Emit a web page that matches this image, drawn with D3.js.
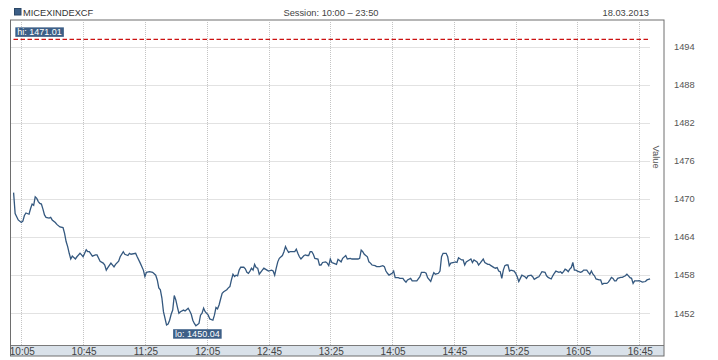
<!DOCTYPE html>
<html>
<head>
<meta charset="utf-8">
<script src="https://d3js.org/d3.v7.min.js"></script>
<style>
body { margin: 0; background: #fff; }
svg text { font-family: "Liberation Sans", Arial, sans-serif; }
</style>
</head>
<body>
<script>
"use strict";
var svg_width = 718;
var svg_height = 360;

//---header texts
var ticker = "MICEXINDEXCF";
var session_text = "Session: 10:00 \u2013 23:50";
var date_text = "18.03.2013";

//---minutes after 10:00 and index value at that minute
var minutes = [
    0,1,2,3,5,6,7,8,10,11,
    12,13,14,15,16,17,18,19,20,21,
    23,24,25,27,28,30,32,33,34,35,
    36,37,38,40,41,43,44,45,47,48,
    49,51,53,54,56,58,59,60,61,63,
    65,66,68,69,71,72,74,75,76,79,
    80,82,84,85,86,88,90,92,93,94,
    95,96,97,99,100,101,102,103,104,105,
    106,107,108,110,111,113,114,115,116,117,
    118,120,121,122,123,124,126,127,129,130,
    131,132,133,134,135,136,138,139,140,141,
    142,143,144,145,146,147,149,150,151,152,
    153,154,155,156,157,158,159,161,162,164,
    165,167,168,169,170,171,172,174,175,176,
    177,178,179,181,182,183,184,185,186,188,
    189,190,191,192,193,194,195,197,198,199,
    200,202,203,204,205,206,207,209,210,212,
    213,215,216,218,219,221,223,224,225,226,
    227,229,230,231,232,234,235,237,239,240,
    241,242,243,245,246,247,249,250,252,253,
    254,255,257,258,260,261,263,264,266,267,
    268,270,271,272,273,275,276,277,278,279,
    280,281,282,283,285,286,287,288,290,291,
    292,293,295,296,297,298,300,301,302,304,
    305,307,308,309,311,312,313,314,315,316,
    317,318,319,320,321,322,324,325,326,327,
    328,329,331,332,333,335,336,337,339,340,
    341,342,344,345,346,348,349,350,351,353,
    354,355,356,357,358,359,360,361,362,363,
    364,365,367,368,369,371,372,373,374,375,
    376,377,379,380,381,382,384,385,386,387,
    388,389,390,391,393,394,396,397,398,399,
    400,401,402,404,405,407,409,410,412
];
var values = [
    1471.01,1467.7,1467.2,1466.7,1466.3,1466.5,1467.4,1467.8,1467.6,1468.5,
    1469.2,1469.0,1470.35,1470.1,1469.6,1469.3,1469.2,1468.4,1467.5,1467.1,
    1467.0,1467.1,1466.7,1466.3,1466.0,1465.6,1465.5,1464.6,1463.3,1462.5,
    1461.45,1460.55,1461.0,1460.55,1460.9,1461.45,1461.2,1460.9,1462.0,1461.7,
    1461.7,1461.0,1461.2,1461.2,1460.2,1459.9,1459.6,1458.8,1459.2,1459.9,
    1459.3,1459.7,1460.2,1460.9,1461.7,1461.3,1461.1,1461.45,1461.3,1461.45,
    1460.9,1459.9,1458.8,1457.8,1458.45,1458.55,1458.45,1458.0,1457.25,1456.0,
    1455.7,1454.4,1452.25,1450.15,1450.3,1450.9,1451.85,1452.5,1454.8,1454.1,
    1453.0,1452.0,1452.25,1452.5,1452.35,1452.8,1452.35,1451.85,1450.9,1450.4,
    1450.04,1450.4,1451.7,1452.0,1452.8,1452.25,1451.7,1451.1,1450.9,1451.7,
    1452.9,1452.7,1453.3,1454.25,1455.15,1455.4,1455.7,1456.0,1456.2,1457.25,
    1458.15,1457.8,1458.0,1457.9,1458.8,1459.25,1459.25,1459.0,1458.45,1458.3,
    1458.65,1459.1,1458.8,1459.7,1459.2,1459.1,1458.15,1458.8,1459.1,1458.8,
    1458.65,1458.8,1458.65,1458.0,1459.1,1460.1,1460.65,1461.1,1461.7,1462.5,
    1462.0,1461.6,1461.7,1461.7,1461.7,1462.1,1461.45,1460.9,1460.55,1461.1,
    1461.2,1461.1,1461.1,1461.7,1461.7,1461.3,1460.65,1460.55,1459.6,1459.6,
    1460.0,1460.1,1459.9,1459.5,1460.55,1460.0,1459.9,1459.7,1460.5,1460.1,
    1460.65,1461.1,1460.55,1460.65,1460.55,1460.55,1460.55,1460.65,1461.95,1461.7,
    1461.3,1460.9,1460.1,1459.9,1459.6,1459.5,1459.35,1459.35,1459.5,1459.35,
    1458.65,1458.3,1458.0,1458.3,1458.65,1457.6,1457.6,1457.5,1457.5,1457.15,
    1456.9,1457.25,1457.5,1457.1,1457.1,1457.1,1457.75,1458.45,1458.45,1458.3,
    1457.6,1457.0,1457.75,1458.4,1458.15,1458.3,1458.65,1460.9,1461.45,1461.45,
    1461.45,1460.9,1459.5,1459.9,1460.0,1460.1,1460.0,1460.75,1460.4,1460.4,
    1459.6,1460.1,1460.4,1460.55,1460.0,1460.4,1460.1,1459.6,1459.9,1460.55,
    1460.0,1459.7,1459.7,1459.5,1459.2,1459.1,1459.2,1458.65,1458.55,1457.5,
    1458.8,1459.5,1459.6,1459.6,1458.65,1458.8,1458.65,1458.3,1457.75,1457.0,
    1457.5,1458.0,1457.75,1457.5,1457.9,1458.0,1457.75,1457.35,1457.65,1457.75,
    1458.15,1458.55,1458.45,1457.9,1457.65,1457.4,1457.9,1458.3,1458.65,1458.45,
    1458.55,1458.3,1458.55,1458.95,1458.8,1458.55,1458.95,1459.2,1460.0,1458.8,
    1458.8,1458.65,1458.45,1458.55,1458.8,1458.8,1458.45,1458.15,1458.65,1458.15,
    1457.9,1457.4,1457.25,1457.25,1456.55,1456.7,1456.7,1456.9,1457.25,1457.65,
    1457.5,1457.1,1457.1,1457.5,1457.65,1457.65,1457.9,1458.15,1457.9,1457.6,
    1457.5,1456.7,1457.1,1457.1,1457.15,1456.9,1457.0,1457.25,1457.4
];

//---axis ticks
var x_tick_minutes = [5, 45, 85, 125, 165, 205, 245, 285, 325, 365, 405];
var x_tick_labels = ["10:05", "10:45", "11:25", "12:05", "12:45", "13:25", "14:05", "14:45", "15:25", "16:05", "16:45"];
var y_ticks = [1452, 1458, 1464, 1470, 1476, 1482, 1488, 1494];
var hi_level = 1495.15; //---where the dashed "hi" line is drawn
var hi_label = "hi: 1471.01";
var lo_label = "lo: 1450.04";

//---frame
var plot_left = 10.5, plot_right = 664, plot_top = 20, plot_bottom = 345, band_bottom = 356;

var xscale = d3.scaleLinear()
    .domain([-2, 421])
    .range([plot_left, plot_right]);
var yscale = d3.scaleLinear()
    .domain([1447, 1498.2])
    .range([plot_bottom, plot_top]);

var svg = d3.select("body")
    .append("svg")
    .attr("width", svg_width)
    .attr("height", svg_height);

//---header
svg.append("rect")
    .attr("x", 14.5).attr("y", 8.5)
    .attr("width", 6.5).attr("height", 6.5)
    .attr("fill", "#3d5f87")
    .attr("stroke", "#2b4766")
    .attr("stroke-width", 1);
svg.append("text")
    .attr("x", 23).attr("y", 15.5)
    .attr("font-size", "9.3px").attr("fill", "#333")
    .text(ticker);
svg.append("text")
    .attr("x", 331).attr("y", 15.5)
    .attr("text-anchor", "middle")
    .attr("font-size", "9.3px").attr("fill", "#444")
    .text(session_text);
svg.append("text")
    .attr("x", 649).attr("y", 15.5)
    .attr("text-anchor", "end")
    .attr("font-size", "9.3px").attr("fill", "#444")
    .text(date_text);

//---grid
var grid = svg.append("g");
grid.selectAll("line.hgrid")
    .data(y_ticks)
    .enter()
    .append("line")
    .attr("class", "hgrid")
    .attr("x1", plot_left).attr("x2", 650)
    .attr("y1", function(d) { return Math.round(yscale(d)) + 0.5; })
    .attr("y2", function(d) { return Math.round(yscale(d)) + 0.5; })
    .attr("stroke", "#c4c4c4")
    .attr("stroke-dasharray", "1,1");
grid.selectAll("line.vgrid")
    .data(x_tick_minutes)
    .enter()
    .append("line")
    .attr("class", "vgrid")
    .attr("x1", function(d) { return Math.round(xscale(d)) + 0.5; })
    .attr("x2", function(d) { return Math.round(xscale(d)) + 0.5; })
    .attr("y1", plot_top + 2).attr("y2", plot_bottom)
    .attr("stroke", "#c4c4c4")
    .attr("stroke-dasharray", "1,1");

//---hi line (red dashed)
svg.append("line")
    .attr("x1", 13.5).attr("x2", 650)
    .attr("y1", yscale(hi_level)).attr("y2", yscale(hi_level))
    .attr("stroke", "#cc1111")
    .attr("stroke-width", 1.4)
    .attr("stroke-dasharray", "4.5,2.5");

//---price line
var points = d3.zip(minutes, values);
var line = d3.line()
    .x(function(d) { return xscale(d[0]); })
    .y(function(d) { return yscale(d[1]); });
svg.append("path")
    .datum(points)
    .attr("d", line)
    .attr("fill", "none")
    .attr("stroke", "#34587f")
    .attr("stroke-width", 1.3)
    .attr("stroke-linejoin", "miter");

//---hi / lo labels
function addTag(text, cx, top)
{
    var g = svg.append("g");
    var t = g.append("text")
        .attr("x", cx).attr("y", top + 8)
        .attr("text-anchor", "middle")
        .attr("font-size", "9px")
        .attr("fill", "#fff")
        .text(text);
    var w = t.node().getComputedTextLength() + 4;
    g.insert("rect", "text")
        .attr("x", cx - w/2).attr("y", top)
        .attr("width", w).attr("height", 9.5)
        .attr("fill", "#3d5f87");
}
var hi_index = values.indexOf(d3.max(values));
var lo_index = values.indexOf(d3.min(values));
addTag(hi_label, xscale(minutes[hi_index]) + 26, yscale(hi_level) - 12);
addTag(lo_label, xscale(minutes[lo_index]) + 1.5, yscale(values[lo_index]) + 3.5);

//---bottom band with time labels
svg.append("rect")
    .attr("x", plot_left).attr("y", plot_bottom)
    .attr("width", plot_right - plot_left).attr("height", band_bottom - plot_bottom)
    .attr("fill", "#d9e1e9");
svg.append("line")
    .attr("x1", plot_left).attr("x2", plot_right)
    .attr("y1", plot_bottom + 0.5).attr("y2", plot_bottom + 0.5)
    .attr("stroke", "#7a7a7a");
svg.selectAll("text.xlab")
    .data(x_tick_minutes)
    .enter()
    .append("text")
    .attr("class", "xlab")
    .attr("x", function(d) { return xscale(d) + 1; })
    .attr("y", 355)
    .attr("text-anchor", "middle")
    .attr("font-size", "10px")
    .attr("fill", "#444")
    .text(function(d, i) { return x_tick_labels[i]; });

//---frame
svg.append("rect")
    .attr("x", plot_left).attr("y", plot_top)
    .attr("width", plot_right - plot_left).attr("height", band_bottom - plot_top)
    .attr("fill", "none")
    .attr("stroke", "#6e6e6e")
    .attr("stroke-width", 1);

//---right value axis
svg.selectAll("text.ylab")
    .data(y_ticks)
    .enter()
    .append("text")
    .attr("class", "ylab")
    .attr("x", 674)
    .attr("y", function(d) { return yscale(d) + 3.3; })
    .attr("font-size", "9.3px")
    .attr("fill", "#555")
    .text(function(d) { return d; });
svg.append("text")
    .attr("transform", "translate(653," + yscale(1476.6) + ") rotate(90)")
    .attr("text-anchor", "middle")
    .attr("font-size", "9.3px")
    .attr("fill", "#555")
    .text("Value");
</script>
</body>
</html>
